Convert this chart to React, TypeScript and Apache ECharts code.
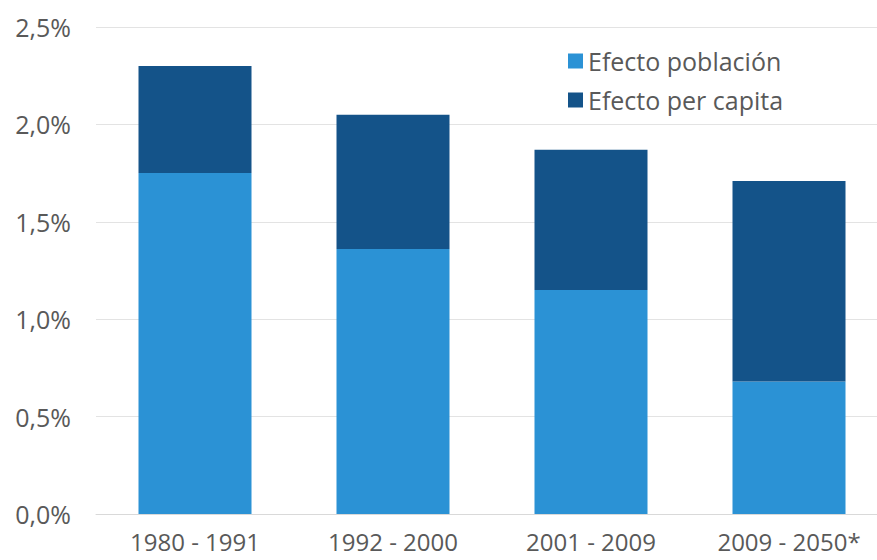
import React, { useEffect, useRef } from "react";
import * as echarts from "echarts";

// Periods and the two components of growth (percent per year)
const periods = ["1980 - 1991", "1992 - 2000", "2001 - 2009", "2009 - 2050*"];
const efectoPoblacion = [1.75, 1.36, 1.15, 0.68];
const efectoPerCapita = [0.55, 0.69, 0.72, 1.03];
const yTicks = [0, 0.5, 1.0, 1.5, 2.0, 2.5];

const FONT = "'Open Sans', sans-serif";
const TEXT = "#595959";

export default function App() {
  const ref = useRef<HTMLDivElement>(null);

  useEffect(() => {
    document.body.style.margin = "0";
    if (!ref.current) return;
    const chart = echarts.init(ref.current, undefined, { renderer: "svg" });
    chart.setOption({
      animation: false,
      backgroundColor: "#ffffff",
      textStyle: { fontFamily: FONT },
      grid: { left: 96, right: 0, top: 27, bottom: 46, containLabel: false },
      legend: {
        orient: "vertical",
        left: 563,
        top: 43,
        itemWidth: 15,
        itemHeight: 15,
        itemGap: 13,
        icon: "rect",
        textStyle: { fontFamily: FONT, fontSize: 25, color: TEXT, lineHeight: 26 },
        data: ["Efecto población", "Efecto per capita"],
      },
      xAxis: {
        type: "category",
        data: periods,
        axisLine: { show: true, lineStyle: { color: "#d9d9d9", width: 1 } },
        axisTick: { show: false },
        axisLabel: { fontFamily: FONT, fontSize: 24, color: TEXT, margin: 15 },
      },
      yAxis: {
        type: "value",
        min: yTicks[0],
        max: yTicks[yTicks.length - 1],
        interval: 0.5,
        axisLine: { show: false },
        axisTick: { show: false },
        splitLine: { lineStyle: { color: "#e3e3e3", width: 1 } },
        axisLabel: {
          fontFamily: FONT,
          fontSize: 25,
          color: TEXT,
          margin: 25,
          formatter: (v: number) => v.toFixed(1).replace(".", ",") + "%",
        },
      },
      series: [
        {
          name: "Efecto población",
          type: "bar",
          stack: "total",
          barWidth: 113,
          itemStyle: { color: "#2b92d5" },
          data: efectoPoblacion,
        },
        {
          name: "Efecto per capita",
          type: "bar",
          stack: "total",
          barWidth: 113,
          itemStyle: { color: "#145389" },
          data: efectoPerCapita,
        },
      ],
    });
    return () => chart.dispose();
  }, []);

  // The chart is wider than the frame; the plot area's right end is clipped.
  return (
    <div style={{ width: 877, height: 560, overflow: "hidden" }}>
      <div ref={ref} style={{ width: 888, height: 560 }} />
    </div>
  );
}
